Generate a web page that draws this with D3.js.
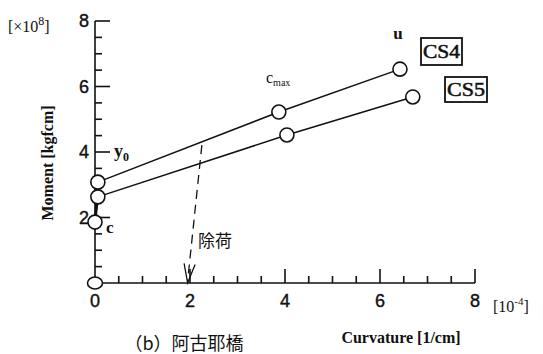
<!DOCTYPE html>
<html>
<head>
<meta charset="utf-8">
<script src="https://cdn.jsdelivr.net/npm/d3@7"></script>
<style>
  html, body { margin: 0; padding: 0; background: #fff; }
  svg { display: block; }
</style>
</head>
<body>
<svg id="chart" width="543" height="354"></svg>
<script>
// Moment–curvature relation, two sections (curvature in 1e-4 1/cm, moment in 1e8 kgfcm)
const seriesNames = ["CS4", "CS5"];
const cs4Curvature = [0.06, 3.87, 6.42];
const cs4Moment    = [3.08, 5.22, 6.53];
const cs5Curvature = [0.06, 4.04, 6.69];
const cs5Moment    = [2.63, 4.52, 5.68];
// cracking point and origin on the moment axis
const crackCurvature = [0, 0];
const crackMoment    = [0, 1.86];
// unloading path (dashed arrow)
const unloadCurvature = [2.25, 1.95];
const unloadMoment    = [4.21, 0.0];
const xTickLabels = ["0", "2", "4", "6", "8"];
const yTickLabels = ["2", "4", "6", "8"];

const svg = d3.select("#chart");
const x = d3.scaleLinear().domain([0, 8]).range([95, 475]);
const y = d3.scaleLinear().domain([0, 8]).range([283, 21]);
const ink = "#111";
const serif = "'Liberation Serif', 'DejaVu Serif', serif";
const sans = "'Liberation Sans', Arial, sans-serif";

// axes with inward ticks
const g = svg.append("g").attr("stroke", ink).attr("stroke-width", 1.6).attr("fill", "none");
g.append("line").attr("x1", x(0)).attr("x2", x(8)).attr("y1", y(0)).attr("y2", y(0));
g.append("line").attr("x1", x(0)).attr("x2", x(0)).attr("y1", y(0)).attr("y2", y(8));

d3.range(0, 8.01, 0.5).forEach(v => {
  if (v === 0) return;
  const major = Math.abs(v % 2) < 1e-9;
  g.append("line")
    .attr("x1", x(v)).attr("x2", x(v))
    .attr("y1", y(0)).attr("y2", y(0) - (major ? 14 : 7));
  g.append("line")
    .attr("x1", x(0)).attr("x2", x(0) + (major ? 15 : 7))
    .attr("y1", y(v)).attr("y2", y(v));
});

// tick labels
svg.append("g").selectAll("text").data(xTickLabels).join("text")
  .attr("x", d => x(+d)).attr("y", y(0) + 24)
  .attr("text-anchor", "middle")
  .attr("font-family", sans).attr("font-size", 18).attr("fill", ink)
  .attr("stroke", ink).attr("stroke-width", 0.4)
  .text(d => d);
svg.append("g").selectAll("text").data(yTickLabels).join("text")
  .attr("x", x(0) - 6).attr("y", d => y(+d) + 6)
  .attr("text-anchor", "end")
  .attr("font-family", sans).attr("font-size", 18).attr("fill", ink)
  .attr("stroke", ink).attr("stroke-width", 0.4)
  .text(d => d);

// unit labels
const mult = svg.append("text").attr("x", 8).attr("y", 32)
  .attr("font-family", serif).attr("font-size", 16).attr("fill", ink);
mult.append("tspan").text("[×10");
mult.append("tspan").attr("dy", -7).attr("font-size", 12).text("8");
mult.append("tspan").attr("dy", 7).text("]");

const xu = svg.append("text").attr("x", 493).attr("y", 312)
  .attr("font-family", serif).attr("font-size", 16).attr("fill", ink);
xu.append("tspan").text("[10");
xu.append("tspan").attr("dy", -7).attr("font-size", 11).text("-4");
xu.append("tspan").attr("dy", 7).text("]");

// axis titles
svg.append("text")
  .attr("transform", `translate(53,163) rotate(-90)`)
  .attr("text-anchor", "middle")
  .attr("font-family", serif).attr("font-size", 16).attr("font-weight", "bold").attr("fill", ink)
  .text("Moment [kgfcm]");
svg.append("text")
  .attr("x", 401).attr("y", 343)
  .attr("text-anchor", "middle")
  .attr("font-family", serif).attr("font-size", 16).attr("font-weight", "bold").attr("fill", ink)
  .text("Curvature [1/cm]");

// caption along the bottom edge
svg.append("text")
  .attr("x", 184).attr("y", 350)
  .attr("text-anchor", "middle")
  .attr("font-family", "'Noto Sans CJK JP', sans-serif").attr("font-size", 18).attr("fill", ink)
  .text("（b）阿古耶橋");

// dashed unloading arrow
const ux = unloadCurvature.map(x), uy = unloadMoment.map(y);
svg.append("line")
  .attr("x1", ux[0]).attr("y1", uy[0]).attr("x2", ux[1]).attr("y2", uy[1] - 2)
  .attr("stroke", ink).attr("stroke-width", 1.3).attr("stroke-dasharray", "9,6");
{
  const ang = Math.atan2(uy[1] - uy[0], ux[1] - ux[0]);
  const len = 20, spread = 0.28;
  const p = (a) => [ux[1] - len * Math.cos(a), uy[1] - len * Math.sin(a)];
  const a1 = p(ang - spread), a2 = p(ang + spread);
  svg.append("path")
    .attr("d", `M${a1[0]},${a1[1]}L${ux[1]},${uy[1]}L${a2[0]},${a2[1]}`)
    .attr("fill", "none").attr("stroke", ink).attr("stroke-width", 1.3);
}
svg.append("text").attr("x", 198).attr("y", 247)
  .attr("font-family", "'Noto Sans CJK JP', sans-serif").attr("font-size", 17).attr("fill", ink)
  .text("除荷");

// curves
const line = d3.line().x(d => x(d[0])).y(d => y(d[1]));
const cs4 = cs4Curvature.map((c, i) => [c, cs4Moment[i]]);
const cs5 = cs5Curvature.map((c, i) => [c, cs5Moment[i]]);
const crack = [crackCurvature[1], crackMoment[1]];
const lines = svg.append("g").attr("fill", "none").attr("stroke", ink).attr("stroke-width", 1.5);
lines.append("path").attr("d", line([crack, cs5[0]])).attr("stroke-width", 2.5);
lines.append("path").attr("d", line([crack, cs4[0]])).attr("stroke-width", 2.2);
lines.append("path").attr("d", line(cs4));
lines.append("path").attr("d", line(cs5));

// point markers
const pts = [...cs4, ...cs5, crack];
svg.append("g").selectAll("circle").data(pts).join("circle")
  .attr("cx", d => x(d[0])).attr("cy", d => y(d[1])).attr("r", 7)
  .attr("fill", "#fff").attr("stroke", ink).attr("stroke-width", 1.6);
svg.append("ellipse")
  .attr("cx", x(crackCurvature[0])).attr("cy", y(crackMoment[0]))
  .attr("rx", 7.5).attr("ry", 6)
  .attr("fill", "#fff").attr("stroke", ink).attr("stroke-width", 1.6);

// point annotations
const y0 = svg.append("text").attr("x", 114).attr("y", 157)
  .attr("font-family", serif).attr("font-size", 18).attr("font-weight", "bold").attr("fill", ink);
y0.append("tspan").text("y");
y0.append("tspan").attr("dy", 4).attr("font-size", 12).text("0");
svg.append("text").attr("x", 106).attr("y", 233)
  .attr("font-family", serif).attr("font-size", 17).attr("font-weight", "bold").attr("fill", ink)
  .text("c");
svg.append("text").attr("x", 398).attr("y", 39)
  .attr("text-anchor", "middle")
  .attr("font-family", serif).attr("font-size", 17).attr("font-weight", "bold").attr("fill", ink)
  .text("u");
const cm = svg.append("text").attr("x", 266).attr("y", 83)
  .attr("font-family", serif).attr("font-size", 16).attr("fill", ink);
cm.append("tspan").text("c");
cm.append("tspan").attr("dy", 3).attr("font-size", 10).text("max");

// series boxes
const boxes = [
  { name: seriesNames[0], x0: 421, y0: 38, w: 41, h: 27 },
  { name: seriesNames[1], x0: 445, y0: 77, w: 42, h: 25 }
];
boxes.forEach(b => {
  svg.append("rect").attr("x", b.x0).attr("y", b.y0).attr("width", b.w).attr("height", b.h)
    .attr("fill", "none").attr("stroke", ink).attr("stroke-width", 1.8);
  svg.append("text").attr("x", b.x0 + b.w / 2).attr("y", b.y0 + b.h / 2 + 6)
    .attr("text-anchor", "middle")
    .attr("font-family", serif).attr("font-size", 18).attr("fill", ink)
    .attr("stroke", ink).attr("stroke-width", 0.5)
    .attr("textLength", b.w - 4).attr("lengthAdjust", "spacingAndGlyphs")
    .text(b.name);
});
</script>
</body>
</html>
